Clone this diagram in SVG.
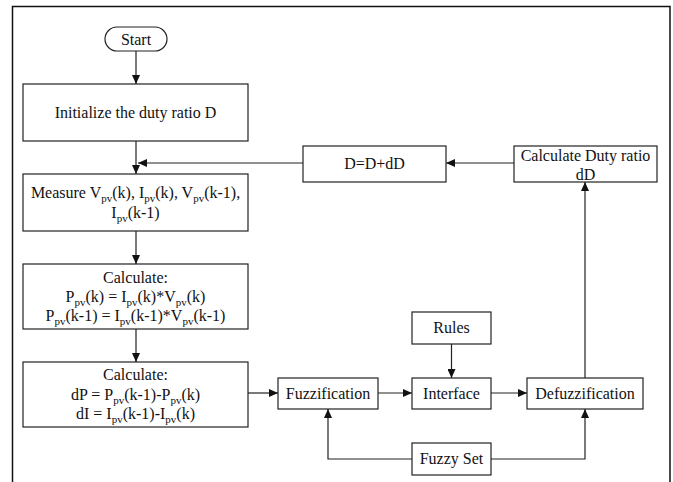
<svg xmlns="http://www.w3.org/2000/svg" width="673" height="482" viewBox="0 0 673 482">
<style>
.box{fill:#fff;stroke:#222;stroke-width:1.2}
.t{font-family:"Liberation Serif","Times New Roman",serif;font-size:16px;fill:#111;text-anchor:middle}
.s{font-size:11px}
.c{fill:none;stroke:#222;stroke-width:1.2}
</style>
<defs>
<marker id="ah" markerWidth="9" markerHeight="8" refX="9" refY="4" orient="auto" markerUnits="userSpaceOnUse">
<path d="M0,0 L9,4 L0,8 Z" fill="#111"/>
</marker>
</defs>
<rect x="0" y="0" width="673" height="482" fill="#fff"/>
<path d="M12.5,490 V6.5 H670 V490" fill="none" stroke="#111" stroke-width="1.5"/>

<g id="connectors">
<line class="c" x1="136" y1="51" x2="136" y2="84" marker-end="url(#ah)"/>
<line class="c" x1="136" y1="141" x2="136" y2="174" marker-end="url(#ah)"/>
<line class="c" x1="303" y1="163" x2="138" y2="163" marker-end="url(#ah)"/>
<line class="c" x1="514" y1="163" x2="446" y2="163" marker-end="url(#ah)"/>
<line class="c" x1="136" y1="231" x2="136" y2="264" marker-end="url(#ah)"/>
<line class="c" x1="136" y1="329" x2="136" y2="362" marker-end="url(#ah)"/>
<line class="c" x1="248" y1="393" x2="278" y2="393" marker-end="url(#ah)"/>
<line class="c" x1="378" y1="393" x2="412" y2="393" marker-end="url(#ah)"/>
<line class="c" x1="491" y1="393" x2="527" y2="393" marker-end="url(#ah)"/>
<line class="c" x1="451.5" y1="344" x2="451.5" y2="378" marker-end="url(#ah)"/>
<polyline class="c" points="412,459 328,459 328,409" marker-end="url(#ah)"/>
<polyline class="c" points="491,459 585,459 585,409" marker-end="url(#ah)"/>
<line class="c" x1="585" y1="378" x2="585" y2="182" marker-end="url(#ah)"/>
</g>

<g id="start">
<rect class="box" x="105" y="27" width="62" height="24" rx="12" ry="12"/>
<text class="t" x="136" y="44.5">Start</text>
</g>
<g id="init">
<rect class="box" x="23" y="84" width="225" height="57"/>
<text class="t" x="135.5" y="118">Initialize the duty ratio D</text>
</g>
<g id="measure">
<rect class="box" x="23" y="174" width="225" height="57"/>
<text class="t" x="135.5" y="198">Measure V<tspan class="s" dy="4">pv</tspan><tspan dy="-4">(k), I</tspan><tspan class="s" dy="4">pv</tspan><tspan dy="-4">(k), V</tspan><tspan class="s" dy="4">pv</tspan><tspan dy="-4">(k-1),</tspan></text>
<text class="t" x="135.5" y="218">I<tspan class="s" dy="4">pv</tspan><tspan dy="-4">(k-1)</tspan></text>
</g>
<g id="calc1">
<rect class="box" x="23" y="264" width="225" height="65"/>
<text class="t" x="135.5" y="283">Calculate:</text>
<text class="t" x="135.5" y="302">P<tspan class="s" dy="4">pv</tspan><tspan dy="-4">(k) = I</tspan><tspan class="s" dy="4">pv</tspan><tspan dy="-4">(k)*V</tspan><tspan class="s" dy="4">pv</tspan><tspan dy="-4">(k)</tspan></text>
<text class="t" x="135.5" y="321">P<tspan class="s" dy="4">pv</tspan><tspan dy="-4">(k-1) = I</tspan><tspan class="s" dy="4">pv</tspan><tspan dy="-4">(k-1)*V</tspan><tspan class="s" dy="4">pv</tspan><tspan dy="-4">(k-1)</tspan></text>
</g>
<g id="calc2">
<rect class="box" x="23" y="362" width="225" height="65"/>
<text class="t" x="135.5" y="380">Calculate:</text>
<text class="t" x="135.5" y="400">dP = P<tspan class="s" dy="4">pv</tspan><tspan dy="-4">(k-1)-P</tspan><tspan class="s" dy="4">pv</tspan><tspan dy="-4">(k)</tspan></text>
<text class="t" x="135.5" y="419">dI = I<tspan class="s" dy="4">pv</tspan><tspan dy="-4">(k-1)-I</tspan><tspan class="s" dy="4">pv</tspan><tspan dy="-4">(k)</tspan></text>
</g>
<g id="update">
<rect class="box" x="303" y="146" width="143" height="36"/>
<text class="t" x="374.5" y="169">D=D+dD</text>
</g>
<g id="calcduty">
<rect class="box" x="514" y="146" width="143" height="36"/>
<text class="t" x="585.5" y="161">Calculate Duty ratio</text>
<text class="t" x="585.5" y="180">dD</text>
</g>
<g id="fuzzification">
<rect class="box" x="278" y="378" width="100" height="31"/>
<text class="t" x="328" y="399">Fuzzification</text>
</g>
<g id="interface">
<rect class="box" x="412" y="378" width="79" height="31"/>
<text class="t" x="451.5" y="399">Interface</text>
</g>
<g id="defuzzification">
<rect class="box" x="527" y="378" width="116" height="31"/>
<text class="t" x="585" y="399">Defuzzification</text>
</g>
<g id="rules">
<rect class="box" x="412" y="312" width="79" height="32"/>
<text class="t" x="451.5" y="333">Rules</text>
</g>
<g id="fuzzyset">
<rect class="box" x="412" y="443" width="79" height="32"/>
<text class="t" x="451.5" y="464">Fuzzy Set</text>
</g>
</svg>
